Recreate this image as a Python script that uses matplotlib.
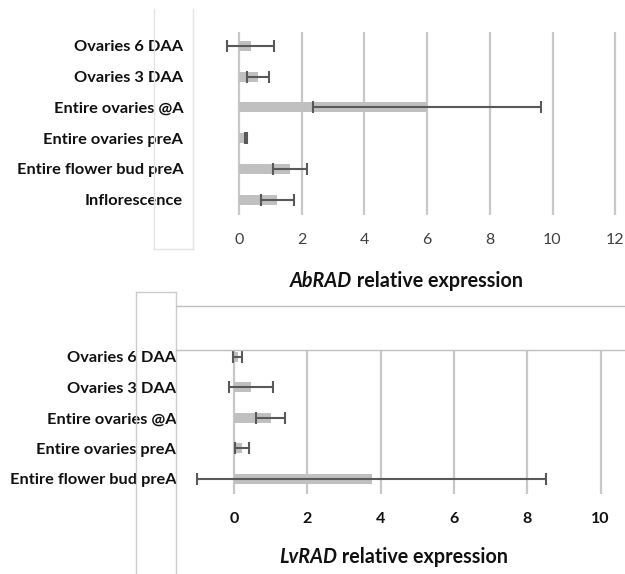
import matplotlib.pyplot as plt
from matplotlib.lines import Line2D

# top chart: AbRAD
ab_labels = ['Inflorescence', 'Entire flower bud preA', 'Entire ovaries preA',
             'Entire ovaries @A', 'Ovaries 3 DAA', 'Ovaries 6 DAA']
ab_values = [1.22, 1.64, 0.22, 6.0, 0.60, 0.37]
ab_errors = [0.52, 0.54, 0.03, 3.63, 0.36, 0.76]
ab_ticks = [0, 2, 4, 6, 8, 10, 12]

# bottom chart: LvRAD
lv_labels = ['Entire flower bud preA', 'Entire ovaries preA', 'Entire ovaries @A',
             'Ovaries 3 DAA', 'Ovaries 6 DAA']
lv_values = [3.76, 0.22, 1.0, 0.46, 0.10]
lv_errors = [4.76, 0.18, 0.40, 0.60, 0.13]
lv_ticks = [0, 2, 4, 6, 8, 10]

plt.rcParams['font.family'] = ['Lato', 'DejaVu Sans']

W, H = 625, 574
fig = plt.figure(figsize=(W / 100, H / 100), dpi=100)

bar_col = '#c0c0c0'
err_col = '#595959'
grid_col = '#c8c8c8'


def px_axes(left, top, right, bottom):
    return fig.add_axes([left / W, 1 - bottom / H, (right - left) / W, (bottom - top) / H])


def draw(ax, labels, values, errors, ticks, bold_ticks):
    ys = range(len(labels))
    for t in ticks:
        ax.axvline(t, color=grid_col, lw=1.6, zorder=0)
    ax.barh(ys, values, height=0.33, color=bar_col, zorder=2)
    ax.errorbar(values, ys, xerr=errors, fmt='none', ecolor=err_col,
                elinewidth=1.5, capsize=4, capthick=1.5, zorder=3)
    ax.set_yticks(list(ys))
    ax.set_yticklabels(labels, fontsize=11.8, fontweight='bold', color='#111111')
    ax.set_xticks(ticks)
    ax.set_xticklabels([str(t) for t in ticks], fontsize=11.5,
                       fontweight='bold' if bold_ticks else 'normal',
                       color='#111111' if bold_ticks else '#404040')
    ax.tick_params(length=0)
    for s in ax.spines.values():
        s.set_visible(False)
    ax.patch.set_alpha(0)


# top axes: 0 at x=239, 31.35 px per unit
ax1 = px_axes(195, 32, 625, 215)
draw(ax1, ab_labels, ab_values, ab_errors, ab_ticks, False)
ax1.set_xlim((195 - 239) / 31.35, (625 - 239) / 31.35)
ax1.set_ylim(-0.5, 5.45)
ax1.tick_params(axis='x', pad=13)
ax1.tick_params(axis='y', pad=8.5)

# bottom axes: 0 at x=234, 36.65 px per unit
ax2 = px_axes(177, 350, 625, 494)
draw(ax2, lv_labels, lv_values, lv_errors, lv_ticks, True)
ax2.set_xlim((177 - 234) / 36.65, (625 - 234) / 36.65)
ax2.set_ylim(-0.5, 4.22)
ax2.tick_params(axis='x', pad=13)
ax2.tick_params(axis='y', pad=0.5)

# x axis titles (italic gene name + bold text)
for xj, yj, gene in [(352, 281, 'AbRAD'), (337, 557, 'LvRAD')]:
    fig.text(xj / W, 1 - yj / H, gene, ha='right', va='center', fontsize=14.2,
             fontweight='bold', style='italic', color='#111111')
    fig.text(xj / W, 1 - yj / H, ' relative expression', ha='left', va='center',
             fontsize=14.2, fontweight='bold', color='#111111')

# faint chart-frame remnants
def seg(x0, y0, x1, y1, c):
    fig.add_artist(Line2D([x0 / W, x1 / W], [1 - y0 / H, 1 - y1 / H], color=c, lw=1,
                          transform=fig.transFigure))

seg(154, 9, 154, 249, '#e4e4e4')
seg(193, 9, 193, 249, '#e4e4e4')
seg(154, 249, 193, 249, '#e4e4e4')
seg(136, 292, 136, 574, '#cccccc')
seg(176, 292, 176, 574, '#cccccc')
seg(136, 292, 176, 292, '#cccccc')
seg(176, 306, 625, 306, '#c0c0c0')
seg(176, 350, 625, 350, '#c0c0c0')

fig.savefig('out.png', dpi=100)
